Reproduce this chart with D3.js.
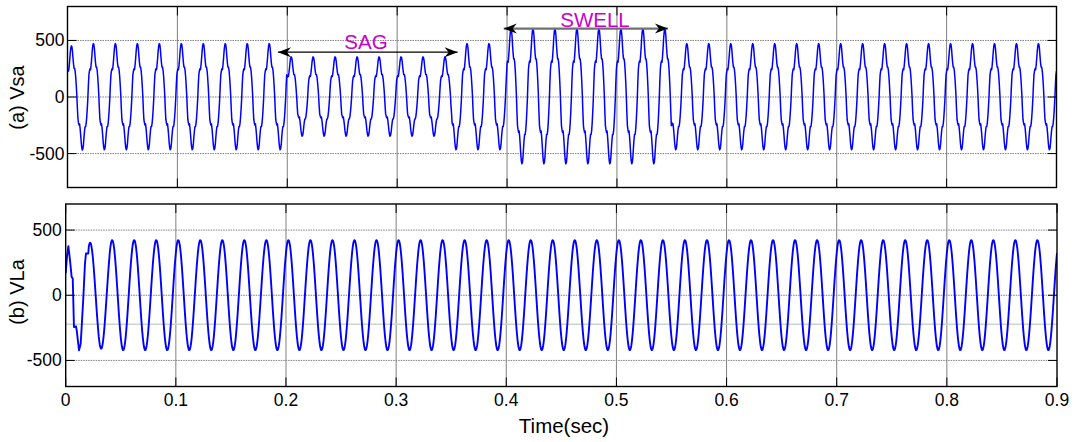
<!DOCTYPE html>
<html><head><meta charset="utf-8">
<script src="https://cdn.jsdelivr.net/npm/d3@7"></script>
<style>
body{margin:0;background:#fff}
svg{display:block}
text{font-family:"Liberation Sans",Arial,Helvetica,sans-serif}
</style>
</head><body>
<svg id="chart" width="1075" height="442"></svg>
<script>
// ---------------- data ----------------
const xTickValues = [0, 0.1, 0.2, 0.3, 0.4, 0.5, 0.6, 0.7, 0.8, 0.9];
const xTickLabels = ["0", "0.1", "0.2", "0.3", "0.4", "0.5", "0.6", "0.7", "0.8", "0.9"];
const yTickValues = [-500, 0, 500];
const yTickLabels = ["-500", "0", "500"];
const sampleStep = 0.0005; // s, 40 samples per 20 ms cycle

// Vsa: one 20 ms cycle, normalised, sampled every 0.5 ms from the start of each cycle
const vsaShape = [0.49, 0.53, 0.51, 0.60, 0.72, 0.86, 0.96, 1.00, 0.98, 0.90,
                  0.76, 0.64, 0.56, 0.56, 0.50, 0.38, 0.22, 0.03, -0.22, -0.42,
                  -0.49, -0.53, -0.51, -0.60, -0.72, -0.86, -0.96, -1.00, -0.98, -0.90,
                  -0.76, -0.64, -0.56, -0.56, -0.50, -0.38, -0.22, -0.03, 0.22, 0.42];
// Vsa: peak magnitude of each 10 ms half cycle (0 .. 0.9 s): normal, sag 0.2-0.35 s, swell 0.4-0.55 s
const vsaHalfPeaks = [452, 468, 472, 466, 472, 466, 472, 466, 472, 466,
                      472, 466, 472, 466, 472, 466, 472, 466, 472, 466,
                      355, 346, 355, 346, 355, 346, 355, 346, 355, 346,
                      355, 346, 355, 346, 355, 466, 472, 466, 472, 466,
                      602, 590, 602, 590, 602, 590, 602, 590, 602, 590,
                      602, 590, 602, 590, 602, 466, 472, 466, 472, 466,
                      472, 466, 472, 466, 472, 466, 472, 466, 472, 466,
                      472, 466, 472, 466, 472, 466, 472, 466, 472, 466,
                      472, 466, 472, 466, 472, 466, 472, 466, 472, 466];

// VLa: one 20 ms cycle, normalised, sampled every 0.5 ms from the start of each cycle
const vlaShape = [0.770, 0.861, 0.930, 0.976, 0.998, 0.996, 0.969, 0.918, 0.844, 0.750,
                  0.637, 0.509, 0.368, 0.218, 0.063, -0.094, -0.249, -0.397, -0.536, -0.661,
                  -0.770, -0.861, -0.930, -0.976, -0.998, -0.996, -0.969, -0.918, -0.844, -0.750,
                  -0.637, -0.509, -0.368, -0.218, -0.063, 0.094, 0.249, 0.397, 0.536, 0.661];
const vlaHalfPeaks = [377, 423, 403, 410, 423, 421, 423, 421, 423, 421,
                      423, 421, 423, 421, 423, 421, 423, 421, 423, 421,
                      423, 421, 423, 421, 423, 421, 423, 421, 423, 421,
                      423, 421, 423, 421, 423, 421, 423, 421, 423, 421,
                      423, 421, 423, 421, 423, 421, 423, 421, 423, 421,
                      423, 421, 423, 421, 423, 421, 423, 421, 423, 421,
                      423, 421, 423, 421, 423, 421, 423, 421, 423, 421,
                      423, 421, 423, 421, 423, 421, 423, 421, 423, 421,
                      423, 421, 423, 421, 423, 421, 423, 421, 423, 421];
// VLa start-up transient (first ~20 ms)
const vlaStartTimes  = [0, 0.0012, 0.0024, 0.0039, 0.0054, 0.0064, 0.0075, 0.0093, 0.0100, 0.0121, 0.0136, 0.0145, 0.0160, 0.0175, 0.0184, 0.0205];
const vlaStartValues = [170, 300, 377, 269, 141, 128, -244, -238, -269, -423, -372, -244, -18, 243, 320, 320];
const vlaRefLine = [-223];

// annotations (data units)
const sagArrow = [0.1915, 0.355], sagArrowLevel = 396, sagLabelAt = [0.2716, 420];
const swellArrow = [0.397, 0.5464], swellArrowLevel = 605, swellLabelAt = [0.48, 617];

// ---------------- build series ----------------
function buildSeries(shape, peaks, startT, startV) {
  const pts = [];
  let tEnd = -1;
  if (startT) { startT.forEach((t, i) => pts.push([t, startV[i]])); tEnd = startT[startT.length - 1]; }
  for (let k = 0; k < peaks.length; k++) {
    for (let j = 0; j < 20; j++) {
      const t = k * 0.01 + j * sampleStep;
      if (t <= tEnd + 1e-9) continue;
      pts.push([t, shape[(k % 2) * 20 + j] * peaks[k]]);
    }
  }
  pts.push([0.9, shape[0] * peaks[peaks.length - 1]]);
  return pts;
}
const vsa = buildSeries(vsaShape, vsaHalfPeaks);
const vla = buildSeries(vlaShape, vlaHalfPeaks, vlaStartTimes, vlaStartValues);

// ---------------- drawing ----------------
const svg = d3.select("#chart");
svg.append("rect").attr("width", 1075).attr("height", 442).attr("fill", "#fff");

const defs = svg.append("defs");
defs.append("marker").attr("id", "ah").attr("viewBox", "-14 -6 15 12")
  .attr("refX", 0).attr("refY", 0).attr("markerWidth", 15).attr("markerHeight", 12)
  .attr("markerUnits", "userSpaceOnUse").attr("orient", "auto-start-reverse")
  .append("path").attr("d", "M0,0 L-13,-5 L-9,0 L-13,5 Z").attr("fill", "#000");

const panels = [
  { id: "a", data: vsa, x: [67.5, 1056.5], y: [187.5, 6.5], dom: [-800, 800], label: "(a) Vsa", labelY: 97.5, width: 1.5, labPad: 3 },
  { id: "b", data: vla, x: [65.7, 1057], y: [386.5, 204], dom: [-700, 700], label: "(b) VLa", labelY: 292, width: 1.9, labPad: 4 }
];

panels.forEach((p, pi) => {
  const x = d3.scaleLinear().domain([0, 0.9]).range(p.x);
  const y = d3.scaleLinear().domain(p.dom).range(p.y);
  p.xs = x; p.ys = y;
  const g = svg.append("g");
  g.append("rect").attr("x", p.x[0]).attr("y", p.y[1]).attr("width", p.x[1] - p.x[0]).attr("height", p.y[0] - p.y[1]).attr("fill", "#fff");

  // vertical grid
  g.selectAll(".vg").data(xTickValues.slice(1, -1)).join("line")
    .attr("x1", d => x(d)).attr("x2", d => x(d)).attr("y1", p.y[1]).attr("y2", p.y[0])
    .attr("stroke", "#808080").attr("stroke-width", 1);
  // horizontal grid
  g.selectAll(".hg").data(yTickValues).join("line")
    .attr("x1", p.x[0]).attr("x2", p.x[1]).attr("y1", d => y(d)).attr("y2", d => y(d))
    .attr("stroke", "#808080").attr("stroke-width", 1).attr("stroke-dasharray", "1.5,1");

  if (pi === 1) {
    g.selectAll(".ref").data(vlaRefLine).join("line")
      .attr("x1", p.x[0]).attr("x2", p.x[1]).attr("y1", d => y(d)).attr("y2", d => y(d))
      .attr("stroke", "#c9d6c9").attr("stroke-width", 1.6);
  }

  const clipId = "clip" + p.id;
  defs.append("clipPath").attr("id", clipId).append("rect")
    .attr("x", p.x[0]).attr("y", p.y[1]).attr("width", p.x[1] - p.x[0]).attr("height", p.y[0] - p.y[1]);

  const line = d3.line().x(d => x(d[0])).y(d => y(d[1]));
  g.append("path").datum(p.data).attr("d", line).attr("fill", "none")
    .attr("stroke", "#0000ff").attr("stroke-width", p.width).attr("stroke-linejoin", "round")
    .attr("clip-path", `url(#${clipId})`);

  // ticks (inside)
  const tl = 9;
  g.selectAll(".xtb").data(xTickValues).join("line")
    .attr("x1", d => x(d)).attr("x2", d => x(d)).attr("y1", p.y[0]).attr("y2", p.y[0] - tl).attr("stroke", "#000");
  g.selectAll(".xtt").data(xTickValues).join("line")
    .attr("x1", d => x(d)).attr("x2", d => x(d)).attr("y1", p.y[1]).attr("y2", p.y[1] + tl).attr("stroke", "#000");
  g.selectAll(".ytl").data(yTickValues).join("line")
    .attr("x1", p.x[0]).attr("x2", p.x[0] + tl).attr("y1", d => y(d)).attr("y2", d => y(d)).attr("stroke", "#000");
  g.selectAll(".ytr").data(yTickValues).join("line")
    .attr("x1", p.x[1]).attr("x2", p.x[1] - tl).attr("y1", d => y(d)).attr("y2", d => y(d)).attr("stroke", "#000");

  // border
  g.append("rect").attr("x", p.x[0]).attr("y", p.y[1]).attr("width", p.x[1] - p.x[0]).attr("height", p.y[0] - p.y[1])
    .attr("fill", "none").attr("stroke", "#000").attr("stroke-width", 1.4);

  // y tick labels
  g.selectAll(".ylab").data(yTickValues).join("text")
    .attr("x", p.x[0] - p.labPad).attr("y", d => y(d) + 6)
    .attr("text-anchor", "end").attr("font-size", 17.5).attr("fill", "#000")
    .text((d, i) => yTickLabels[i]);

  // axis title
  g.append("text").attr("transform", `translate(24,${p.labelY}) rotate(-90)`)
    .attr("text-anchor", "middle").attr("font-size", 20).attr("fill", "#000").text(p.label);
});

// x tick labels (bottom panel)
const pb = panels[1];
svg.selectAll(".xlab").data(xTickValues).join("text")
  .attr("x", d => pb.xs(d)).attr("y", 405.5).attr("text-anchor", "middle")
  .attr("font-size", 17.5).attr("fill", "#000").text((d, i) => xTickLabels[i]);
svg.append("text").attr("x", 564).attr("y", 432.5).attr("text-anchor", "middle")
  .attr("font-size", 20.5).attr("fill", "#000").text("Time(sec)");

// annotations (top panel)
const pa = panels[0];
svg.append("line").attr("x1", pa.xs(sagArrow[0])).attr("x2", pa.xs(sagArrow[1]))
  .attr("y1", pa.ys(sagArrowLevel)).attr("y2", pa.ys(sagArrowLevel))
  .attr("stroke", "#000").attr("stroke-width", 1.3)
  .attr("marker-start", "url(#ah)").attr("marker-end", "url(#ah)");
svg.append("line").attr("x1", pa.xs(swellArrow[0])).attr("x2", pa.xs(swellArrow[1]))
  .attr("y1", pa.ys(swellArrowLevel)).attr("y2", pa.ys(swellArrowLevel))
  .attr("stroke", "#707070").attr("stroke-width", 2.2)
  .attr("marker-start", "url(#ah)").attr("marker-end", "url(#ah)");
svg.append("text").attr("x", pa.xs(sagLabelAt[0])).attr("y", pa.ys(sagLabelAt[1]))
  .attr("text-anchor", "middle").attr("font-size", 20.5).attr("fill", "#cc00cc").text("SAG");
svg.append("text").attr("x", pa.xs(swellLabelAt[0])).attr("y", pa.ys(swellLabelAt[1]))
  .attr("text-anchor", "middle").attr("font-size", 20.5).attr("fill", "#cc00cc").text("SWELL");
</script>
</body></html>
